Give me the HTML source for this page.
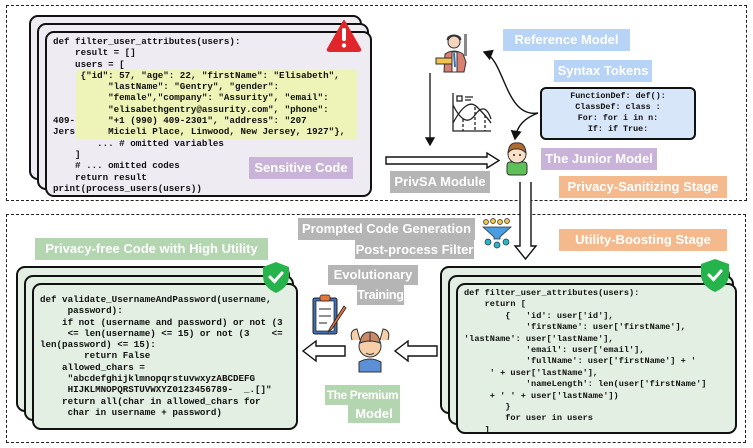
<!DOCTYPE html>
<html><head><meta charset="utf-8"><style>
*{margin:0;padding:0;box-sizing:border-box}
body{width:753px;height:448px;background:#fff;position:relative;overflow:hidden;font-family:"Liberation Sans",sans-serif}
.a{position:absolute}
.dash{position:absolute;border:1.6px dashed #222}
.card{position:absolute;border:2px solid #111;border-radius:9px}
.lbl{position:absolute;color:#fff;font-weight:bold;font-size:13px;text-align:center;line-height:22px;white-space:nowrap;overflow:visible}
pre{position:absolute;font-family:"Liberation Mono",monospace;font-weight:bold;font-size:9.2px;line-height:11.3px;color:#111;white-space:pre}
</style></head><body>
<div class="dash" style="left:6px;top:5px;width:741px;height:196px"></div>
<div class="dash" style="left:6px;top:214px;width:740px;height:229px"></div>

<!-- top cards -->
<div class="card" style="left:29px;top:15px;width:333px;height:165px;background:#efebf3"></div>
<div class="card" style="left:37px;top:23px;width:332px;height:167px;background:#efebf3"></div>
<div class="card" style="left:45px;top:31px;width:327px;height:166px;background:#efebf3"></div>
<div class="a" style="left:76px;top:70px;width:281px;height:69px;background:#eef3b8"></div>
<pre style="left:53px;top:36px">def filter_user_attributes(users):
    result = []
    users = [
     {"id": 57, "age": 22, "firstName": "Elisabeth",
          "lastName": "Gentry", "gender":
          "female","company": "Assurity", "email":
          "elisabethgentry@assurity.com", "phone":
409-      "+1 (990) 409-2301", "address": "207
Jers      Micieli Place, Linwood, New Jersey, 1927"},
        ... # omitted variables
    ]
    # ... omitted codes
    return result
print(process_users(users))</pre>
<svg class="a" style="left:326px;top:19px" width="36" height="33"><path d="M18 2 L34 30 Q35 32 32 32 L4 32 Q1 32 2 30 Z" fill="#e0252b" stroke="#e0252b" stroke-width="2" stroke-linejoin="round"/><rect x="16" y="9" width="4" height="13" rx="2" fill="#fff"/><circle cx="18" cy="26.5" r="2.2" fill="#fff"/></svg>
<div class="lbl" style="left:249px;top:157px;width:104px;background:#c9b3d8">Sensitive Code</div>

<!-- top right -->
<div class="lbl" style="left:503px;top:29px;width:127px;background:#b7d3f5">Reference Model</div>
<div class="lbl" style="left:554px;top:60px;width:98px;background:#b7d3f5">Syntax Tokens</div>
<div class="a" style="left:540px;top:87px;width:156px;height:53px;background:#d7e6f8;border:2px solid #111;border-radius:6px"></div>
<pre style="left:540px;top:91px;width:156px;text-align:center;font-size:8.4px;line-height:11px">FunctionDef: def():
ClassDef: class :
For: for i in n:
If: if True:</pre>
<div class="lbl" style="left:541px;top:148px;width:116px;background:#c9b3d8">The Junior Model</div>
<div class="lbl" style="left:559px;top:176px;width:168px;background:#f4b98d">Privacy-Sanitizing Stage</div>
<div class="lbl" style="left:390px;top:171px;width:100px;background:#b5b5b5">PrivSA Module</div>

<svg class="a" style="left:0;top:0" width="753" height="448">
<defs><marker id="ah" markerWidth="8" markerHeight="8" refX="6" refY="4" orient="auto"><path d="M0 0 L7 4 L0 8 Z" fill="#111"/></marker></defs>
<g transform="translate(436,32)">
<rect x="28" y="2" width="3" height="22" fill="#888"/>
<circle cx="18" cy="10" r="6" fill="#f6d5bf" stroke="#333"/>
<path d="M11 8 Q18 0 25 8 L24 5 Q18 1 12 5Z" fill="#3a3f5c" stroke="#333"/>
<path d="M8 40 L9 22 Q18 16 27 22 L30 30 L28 40Z" fill="#d9806f" stroke="#333"/>
<rect x="16" y="20" width="5" height="20" fill="#fff" stroke="#333"/><path d="M18 21 L19 35" stroke="#3b6fb5" stroke-width="2"/>
<rect x="0" y="26" width="16" height="6" fill="#f2c14e" stroke="#333"/>
</g>
<g transform="translate(451,93)" fill="none" stroke="#222" stroke-width="1.3">
<path d="M2 0 V38 H40"/><rect x="6" y="3" width="5" height="5"/><path d="M14 4 H22 M14 7 H20"/>
<path d="M2 12 Q14 36 24 22 T40 26"/><path d="M2 30 Q16 4 26 14 T40 30"/>
<path d="M12 26 V38 M24 14 V38 M34 22 V38" stroke-dasharray="3 2"/>
</g>
<g transform="translate(503,140)">
<rect x="4" y="22" width="20" height="13" rx="3" fill="#5fc05a" stroke="#333"/>
<circle cx="14" cy="14" r="9" fill="#fbe0c8" stroke="#333"/>
<path d="M5 13 Q6 2 14 3 Q22 2 23 13 Q18 8 12 9 Q8 9 5 13Z" fill="#b06a2c" stroke="#333"/>
<circle cx="11" cy="15" r="1" fill="#222"/><circle cx="17" cy="15" r="1" fill="#222"/>
</g>
<path d="M430 73 V145" stroke="#111" stroke-width="1.3" marker-end="url(#ah)"/>
<path d="M538 113 C505 118 505 60 484 52" fill="none" stroke="#111" stroke-width="1.4" marker-end="url(#ah)"/>
<path d="M538 113 C525 118 517 125 515 139" fill="none" stroke="#111" stroke-width="1.4" marker-end="url(#ah)"/>
<path d="M386 157 H487 V153 L499 160.5 L487 168 V164 H386 Z" fill="#fff" stroke="#111" stroke-width="1.4"/>
<path d="M520 182 V246 H515 L525.5 259 L536 246 H531 V182" fill="#fff" stroke="#111" stroke-width="1.4"/>
<g transform="translate(482,219)">
<circle cx="4" cy="3" r="2.5" fill="#f2c14e" stroke="#333" stroke-width=".7"/><circle cx="11" cy="2" r="2.5" fill="#f2c14e" stroke="#333" stroke-width=".7"/><circle cx="18" cy="3" r="2.5" fill="#f2c14e" stroke="#333" stroke-width=".7"/><circle cx="25" cy="2" r="2.5" fill="#f2c14e" stroke="#333" stroke-width=".7"/>
<path d="M1 8 H29 L18 18 V20 H12 V18Z" fill="#4a9de0" stroke="#333" stroke-width=".8"/>
<circle cx="6" cy="23" r="3" fill="#2bb5c9" stroke="#333" stroke-width=".7"/><circle cx="15" cy="26" r="3" fill="#2bb5c9" stroke="#333" stroke-width=".7"/><circle cx="24" cy="23" r="3" fill="#2bb5c9" stroke="#333" stroke-width=".7"/>
</g>
<path d="M345 346 H316 V341 L303 351 L316 361 V356 H345 Z" fill="#fff" stroke="#111" stroke-width="1.4"/>
<path d="M437 346 H408 V341 L395 351 L408 361 V356 H437 Z" fill="#fff" stroke="#111" stroke-width="1.4"/>
<g transform="translate(312,294)">
<rect x="1" y="4" width="24" height="36" rx="2" fill="#3d6fb4" stroke="#222"/>
<rect x="4" y="7" width="18" height="30" fill="#fff" stroke="#222" stroke-width=".7"/>
<rect x="8" y="1" width="10" height="6" rx="2" fill="#e8753a" stroke="#222" stroke-width=".7"/>
<path d="M7 15 H19 M7 22 H19 M7 29 H15" stroke="#222"/>
<path d="M32 12 L18 34 L16 38 L20 35 L34 14Z" fill="#e8753a" stroke="#222" stroke-width=".8"/>
</g>
<g transform="translate(349,326)">
<path d="M3 14 Q0 4 8 3 L11 14 M39 14 Q42 4 34 3 L31 14" fill="#f6cfa8" stroke="#333"/>
<path d="M10 36 Q21 30 32 36 V46 H10Z" fill="#5b8fd6" stroke="#333"/>
<circle cx="21" cy="20" r="11" fill="#f6cfa8" stroke="#333"/>
<path d="M11 17 Q12 6 21 6 Q30 6 31 17 Q21 13 11 17Z" fill="#c98a6a" stroke="#333"/>
<path d="M21 6 V16" stroke="#333"/>
<path d="M17 27 Q21 30 25 27" stroke="#333" fill="none"/>
</g>
</svg>

<div class="lbl" style="left:298px;top:218px;width:177px;background:#b5b5b5">Prompted Code Generation</div>
<div class="lbl" style="left:355px;top:240px;width:119px;height:19px;line-height:19px;background:#b5b5b5">Post-process Filter</div>
<div class="lbl" style="left:559px;top:229px;width:168px;background:#f4b98d">Utility-Boosting Stage</div>
<div class="lbl" style="left:35px;top:238px;width:233px;background:#b3d6b0">Privacy-free Code with High Utility</div>
<div class="lbl" style="left:328px;top:265px;width:90px;height:20px;line-height:20px;background:#b5b5b5">Evolutionary</div>
<div class="lbl" style="left:357px;top:285px;width:47px;height:20px;line-height:20px;background:#b5b5b5;font-size:12.5px;letter-spacing:-0.3px">Training</div>
<div class="lbl" style="left:325px;top:385px;width:75px;height:20px;line-height:20px;background:#b3d6b0;font-size:12px;letter-spacing:-0.4px">The Premium</div>
<div class="lbl" style="left:348px;top:405px;width:52px;height:18px;line-height:18px;background:#b3d6b0">Model</div>

<div class="card" style="left:16px;top:266px;width:274px;height:146px;background:#e3efe2"></div>
<div class="card" style="left:24px;top:275px;width:270px;height:146px;background:#e3efe2"></div>
<div class="card" style="left:32px;top:283px;width:266px;height:147px;background:#e3efe2"></div>
<pre style="left:40px;top:294px">def validate_UsernameAndPassword(username,
     password):
    if not (username and password) or not (3
     <= len(username) <= 15) or not (3    <=
len(password) <= 15):
        return False
    allowed_chars =
     "abcdefghijklmnopqrstuvwxyzABCDEFG
     HIJKLMNOPQRSTUVWXYZ0123456789-  _.[]"
    return all(char in allowed_chars for
     char in username + password)</pre>
<svg class="a" style="left:261px;top:261px" width="30" height="33"><path d="M15 1 L28 6 V15 Q28 26 15 32 Q2 26 2 15 V6 Z" fill="#27b34b"/><path d="M9 16 L13.5 20.5 L21 12" stroke="#fff" stroke-width="3" fill="none" stroke-linecap="round"/></svg>

<div class="card" style="left:440px;top:266px;width:290px;height:148px;background:#e3efe2"></div>
<div class="card" style="left:448px;top:275px;width:286px;height:150px;background:#e3efe2"></div>
<div class="card" style="left:456px;top:283px;width:281px;height:151px;background:#e3efe2"></div>
<pre style="left:464px;top:288px;font-size:8.6px;line-height:11.4px">def filter_user_attributes(users):
    return [
        {   'id': user['id'],
            'firstName': user['firstName'],
'lastName': user['lastName'],
            'email': user['email'],
            'fullName': user['firstName'] + '
     ' + user['lastName'],
            'nameLength': len(user['firstName']
     + ' ' + user['lastName'])
        }
        for user in users
    ]</pre>
<svg class="a" style="left:699px;top:258px" width="32" height="35"><path d="M16 1 L30 6 V16 Q30 28 16 34 Q2 28 2 16 V6 Z" fill="#27b34b"/><path d="M10 17 L14.5 21.5 L22 13" stroke="#fff" stroke-width="3" fill="none" stroke-linecap="round"/></svg>
</body></html>
